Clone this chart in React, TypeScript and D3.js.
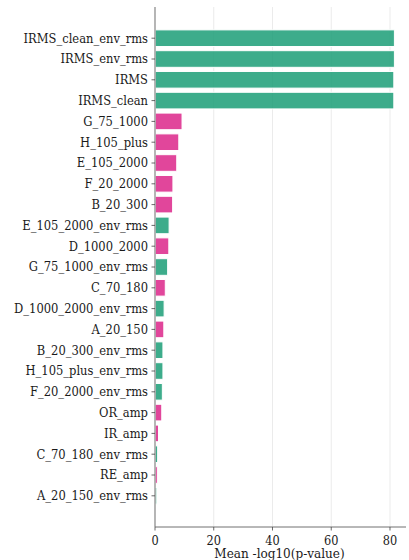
import React from "react";
import * as d3 from "d3";

const categories = [
  "IRMS_clean_env_rms", "IRMS_env_rms", "IRMS", "IRMS_clean", "G_75_1000", "H_105_plus",
  "E_105_2000", "F_20_2000", "B_20_300", "E_105_2000_env_rms", "D_1000_2000",
  "G_75_1000_env_rms", "C_70_180", "D_1000_2000_env_rms", "A_20_150", "B_20_300_env_rms",
  "H_105_plus_env_rms", "F_20_2000_env_rms", "OR_amp", "IR_amp", "C_70_180_env_rms",
  "RE_amp", "A_20_150_env_rms",
];
const values = [
  81.5, 81.5, 81.3, 81.3, 9.2, 8.1, 7.4, 6.1, 6.0, 4.8, 4.7, 4.3, 3.5, 3.1, 3.0, 2.7, 2.7,
  2.5, 2.3, 1.2, 0.9, 0.8, 0.6,
];
const groups = [
  "env", "env", "env", "env", "band", "band", "band", "band", "band", "env", "band", "env",
  "band", "env", "band", "env", "env", "env", "band", "band", "env", "band", "env",
];
const xTicks = [0, 20, 40, 60, 80];
const xLabel = "Mean -log10(p-value)";

const colors: Record<string, string> = { env: "#1b9e77", band: "#dc2689" };

export default function App() {
  const W = 409, H = 560;
  const left = 155, right = 406, top = 7, bottom = 527;
  const x = d3.scaleLinear().domain([0, 85.45]).range([left, right]);
  const n = categories.length;
  const step = (bottom - top) / (n + 2);
  const y = (i: number) => top + step * (i + 1.5);
  const bh = step * 0.8;
  const font = "'DejaVu Serif', serif";
  return (
    <svg width={W} height={H} style={{ position: "absolute", left: 0, top: 0 }}>
      <rect width={W} height={H} fill="#fff" />
      {xTicks.map((t) => (
        <line key={"g" + t} x1={x(t)} x2={x(t)} y1={top} y2={bottom} stroke="#ebebeb" strokeWidth={1} />
      ))}
      {categories.map((c, i) => (
        <rect
          key={c}
          x={x(0)}
          y={y(i) - bh / 2}
          width={x(values[i]) - x(0)}
          height={bh}
          fill={colors[groups[i]]}
          fillOpacity={0.85}
          stroke="#fff"
          strokeWidth={1}
        />
      ))}
      <line x1={left} x2={left} y1={top} y2={bottom} stroke="#a6a6a6" strokeWidth={1.6} />
      <line x1={left} x2={right} y1={bottom} y2={bottom} stroke="#707070" strokeWidth={1} />
      {categories.map((c, i) => (
        <g key={"t" + c}>
          <line x1={left - 3.5} x2={left} y1={y(i)} y2={y(i)} stroke="#444" strokeWidth={0.8} />
          <text x={left - 7} y={y(i)} dy="0.35em" textAnchor="end" fontFamily={font} fontStretch="condensed" fontSize={12.8} fill="#1a1a1a">
            {c}
          </text>
        </g>
      ))}
      {xTicks.map((t) => (
        <g key={"xt" + t}>
          <line x1={x(t)} x2={x(t)} y1={bottom} y2={bottom + 3.5} stroke="#444" strokeWidth={0.8} />
          <text x={x(t)} y={545} textAnchor="middle" fontFamily={font} fontStretch="condensed" fontSize={12.6} fill="#1a1a1a">
            {t}
          </text>
        </g>
      ))}
      <text x={(left + right) / 2 - 1} y={557.5} textAnchor="middle" fontFamily={font} fontStretch="condensed" fontSize={13.4} fill="#1a1a1a">
        {xLabel}
      </text>
    </svg>
  );
}
